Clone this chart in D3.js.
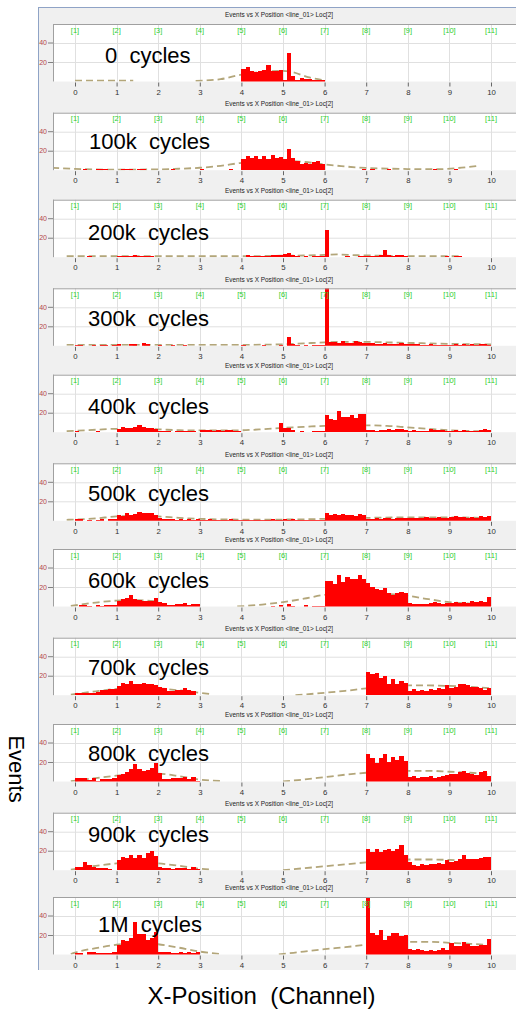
<!DOCTYPE html>
<html>
<head>
<meta charset="utf-8">
<script src="https://cdn.jsdelivr.net/npm/d3@7.9.0/dist/d3.min.js"></script>
<style>
  body { margin: 0; background: #fff; }
  svg { display: block; font-family: "Liberation Sans", Arial, sans-serif; }
</style>
</head>
<body>
<svg id="chart" width="516" height="1009"></svg>
<script>
// ---- data (bins of 0.1 channel from 0 to 10) ----
const cycleLabels = ["0  cycles", "100k  cycles", "200k  cycles", "300k  cycles", "400k  cycles",
  "500k  cycles", "600k  cycles", "700k  cycles", "800k  cycles", "900k  cycles", "1M  cycles"];
const xTicks = [0, 1, 2, 3, 4, 5, 6, 7, 8, 9, 10];
const yTicks = [20, 40];
const channelLabels = ["[1]", "[2]", "[3]", "[4]", "[5]", "[6]", "[7]", "[8]", "[9]", "[10]", "[11]"];
const chartTitle = "Events vs X Position <line_01> Loc[2]";

const counts0 = [
  0,0,0,0,0,0,0,0,0,0, 0,0,0,0,0,0,0,0,0,0, 0,0,0,0,0,0,0,0,0,0, 0,0,0,0,0,0,0,0,0,0,
  13,15,11,10,11,12,17,11,11,12, 2,29,6,1.5,4,3,2.5,2,1.5,1.5,
  0,0,0,0,0,0,0,0,0,0, 0,0,0,0,0,0,0,0,0,0, 0,0,0,0,0,0,0,0,0,0, 0,0,0,0,0,0,0,0,0,0];
const counts100k = [
  0,0,1,0,0,1,1,1,0,0, 0,1,1,1,0,1,1,0,0,0, 0,0,0,1,0,0,0,0,0,0, 1,0,0,0,0,0,0,1,0,0,
  12,14.5,13,14.5,11,14.5,12,15.5,13,13.5, 12,21.5,13,9,6.5,7.5,6,8,9.5,6,
  0,0,0,0,0,0,0,0,0,1, 0,1,0,0,0,1,0,0,0,0, 0,0,0,0,0,0,1,0,0,0, 0,1,0,0,0,0,0,0,0,0];
const counts200k = [
  0,0,0,1,0,0,0,0,0,0, 1,1,1.5,1.5,2,1.5,1.5,1,1,0, 0,0,0,0,0,0,0,0,0,0, 0,0,0,0,0,0,0,0,0,0,
  0,2,1.5,1.5,1,1.5,1.5,2,2.5,2, 3,4.5,2,1,0,1,0,1,1.5,1,
  28,0,0,0,0,1,0,0,1,1, 1,1.5,1.5,2,7,2,1.5,2,2.5,1, 0.5,0,0,0,0,0,0,0,0,1, 0,1.5,1,0,0,0,0,0,0,0];
const counts300k = [
  1,1,0,0,1,0,1,1,0,1, 1.5,0,0,1.5,1.5,0,2.5,1.5,0,0, 1,0,0,1,0,0,1,0,0,0, 0,0,0,0,0,0,0,0,0,0,
  1,0,0,0,0,1,0,0,0,1, 0,9,1.5,1,0,1,0,1,1,1,
  62,4,3.5,3,4.5,3,3,5,3.5,3, 2.5,2.5,1.5,2,2.5,1.5,2,2,3,2, 1.5,2,1.5,1,1,1.5,1,1,1,0.5, 1,1.5,1,1.5,1,1.5,1,1.5,1.5,1];
const counts400k = [
  1,0,0,0,0,1,0,0,0,0, 3.5,5,4,4.5,5,7.5,5.5,4,4,3, 1,1,1,0.5,1,1,1.5,1,1.5,0.5, 2,2,2,1.5,2,1.5,2,2.5,1.5,1,
  0.5,0,0,0,0,0,0.5,0,0,9, 4,3.8,2,0,1,0.5,0.5,1,1,1,
  17.5,14,13,22,16,16,18,15,19,19, 2,2.5,1.5,2,2.5,3,2.5,3,3.5,2, 1.5,2,1,1,1,3,2.5,2.5,2,1.5, 1,2,1.5,2,1.5,1,1.5,2.5,3,2];
const counts500k = [
  1.5,1.5,0,1,0,1,1.5,0,2,2, 6,5,7.5,5.5,6.5,9,7.5,8,7.5,6, 2.5,2,1.5,1.5,1,1.5,1,1.5,1,1.5, 1,1,1.5,1,1,1,1,1.5,1,1,
  0.5,1,1,0.5,1,0.5,1,1.5,1,1, 2,1,1.5,0.5,1,1,1,1,1,1,
  8.5,6,7,5.5,6.5,5.5,6,5,6.5,5.5, 2,2,2.5,2,2.5,2.5,2,3,2.5,3, 2.5,3,2.5,3,3.5,2.5,3,3.5,2.5,3, 4,4.5,3.5,4,3,3.5,2.5,5,4,4.5];
const counts600k = [
  0,1.5,1.5,1,0,2,1,1.5,1.5,2, 6,8,9,12,8,7,6,6,5.5,9, 4.5,4,2,1.5,3,3,3.5,2,3,2.5, 0,0,0,0,0,0,0,0,0,0,
  0,0,0,0,0,0,0,1,0,1.5, 0,3,1,0,0,1.5,0,1,1,1,
  26,26,23,32,25,30,28,28,32,28, 24,20,18,17,19,14,12,14,15,14, 4,3,2.5,2.5,3,3.5,5,3.5,3,4, 4,4.5,3.5,5,4,5.5,5,6,5,9.5];
const counts700k = [
  2.5,2.5,2.5,2.5,2.5,3.5,5,5.5,6,6, 9,13,11.5,14.5,12,11.5,13,12,12,10, 8.5,7,4,4.5,5.5,5.5,7,5.5,4,0, 0,0,0,0,0,0,0,0,0,0,
  0,0,0,0,0,0,0,0,0,0, 0,0,0,0,0,0,0,0,0,0,
  0,0,0,0,0,0,0,0,0,0, 24,22,23,18,20,12,17,11,15,13, 4.5,6,4,5.5,4,6,5,7,6,10, 7,8.5,11.5,12,10,8,8,7.5,5.5,7];
const counts800k = [
  3.5,4,3.5,2,3.5,1,2.5,2.5,3,3.5, 7,7.5,10,13,18,13,11,12,14,19, 9,2.5,2.5,3.5,4,4,5,3,5,1, 0,0,0,0,0,0,0,0,0,0,
  0,0,0,0,0,0,0,0,0,0, 0,0,0,0,0,0,0,0,0,0,
  0,0,0,0,0,0,0,0,0,0, 28,24,19,24,28,20,25,22,26,21, 5,6,3.5,4.5,5,6,4,5,5.5,6.5, 8,8,9.5,10.5,9,7.5,7,10,11,6];
const counts900k = [
  3.5,3.5,8,5,3,2.5,2.5,2,1,0, 10,14,13,16,13,16,13,18,20,15, 3,2,2.5,1.5,2.5,2,2.5,1.5,3,1, 0,0,0,0,0,0,0,0,0,0,
  0,0,0,0,0,0,0,0,0,0, 0,0,0,0,0,0,0,0,0,0,
  0,0,0,0,0,0,0,0,0,0, 22,19,22,19,21,22,20,22,26,16, 8,5,4.5,6,5,6.5,6,7.5,6.5,10, 8,9,11,16,12,11,12,13,13.5,13.5];
const counts1M = [
  1.5,2,0,3,3,1.5,2,2,2,2.5, 10,15,14,17,33,21,21,15,17,23, 3,2.5,2.5,1.5,2,2.5,2,3,2,2.5, 0,0,0,0,0,0,0,0,0,0,
  0,0,0,0,0,0,0,0,0,0, 0,0,0,0,0,0,0,0,0,0,
  0,0,0,0,0,0,0,0,0,0, 62,22,20,25,15,18.5,22,22,19,20, 6,5,6,4.5,4,4.5,4,4.5,7,5, 12,9,9,13,11,8.5,9,10,10,16];

// dashed fit curves: segments of [channel, events]
const fit0 = [[[0,0.8],[1.4,0.8]], [[2.9,0.6],[3.5,2.4],[4,7],[4.5,10],[5,11],[5.2,10],[5.6,4.5],[6,1]]];
const fit100k = [[[-0.55,2.5],[0,1.4],[0.5,0.8],[1,0.6],[2,0.8],[2.5,1.5],[3,2.5],[3.5,4.5],[4,7.5],[4.5,9],[5,9.5],
  [5.5,8.5],[6,6],[6.4,4.2],[7,2.3],[7.5,1.6],[8,1.2],[8.7,1],[9.2,2.2],[9.65,4.2]]];
const fit200k = [[[-0.2,1],[4,1],[5,1.5],[5.8,2],[6.3,2.8],[6.8,2],[7.5,1.5],[8.5,1],[9.3,1]]];
const fit300k = [[[-0.2,1],[4,1],[5,1.5],[5.5,2.5],[6,3.5],[6.5,4],[7,4],[7.5,3.5],[8,3],[9,2],[10,1.5]]];
const fit400k = [[[-0.2,1],[0.5,2.5],[1,3.5],[1.5,3.5],[2,3],[2.5,2],[3,1.8],[3.5,1.8],[4,2],[4.5,3],[5,4.5],
  [5.5,5.5],[6,6.5],[6.5,7],[7,7],[7.5,6.5],[8,5],[8.5,3.5],[9,2],[9.5,1.2],[10,0.8]]];
const fit500k = [[[-0.2,1],[0.5,2.5],[1,4.5],[1.5,5],[2,4.5],[2.5,3],[3,2],[4,1.3],[5,1.3],[6,2],[7,3],[8,3.5],[9,3.5],[10,2.8]]];
const fit600k = [[[-0.1,0.5],[0.5,4],[1,6],[1.5,6.5],[2,5]],
  [[3.9,0],[4.5,2],[5,4.5],[5.5,8],[6,12],[6.5,14],[7,14],[7.5,13],[8,11],[8.5,7.5],[9,4.5],[9.5,3],[10,2]]];
const fit700k = [[[-0.1,0.5],[0.5,4],[1,6.5],[1.5,8],[2,7],[2.5,5],[3,2.5],[3.3,1]],
  [[5.3,0],[6,2.5],[6.5,4.5],[7,7],[7.5,9],[8,10],[8.5,10],[9,9.5],[9.5,8.5],[10,7]]];
const fit800k = [[[-0.1,0.3],[0.5,3.5],[1,6],[1.5,8],[2,8],[2.5,5.5],[3,2],[3.5,0.5]],
  [[5,0],[5.5,2],[6,4.5],[6.5,7],[7,9],[7.5,10.5],[8,11],[8.5,11],[9,10],[9.5,9],[10,7]]];
const fit900k = [[[-0.1,0.5],[0.5,4.5],[1,7],[1.5,8.5],[2,7],[2.5,4.5],[3,1.5],[3.3,0.5]],
  [[5,0],[5.5,2],[6,4],[6.5,6],[7,8],[7.5,10],[8,11],[8.5,11],[9,10.5],[9.5,9.5],[10,8.5]]];
const fit1M = [[[-0.1,0.5],[0,2],[0.5,6.5],[1,10],[1.5,12],[2,10.5],[2.5,7],[3,3],[3.5,0.5]],
  [[4.9,0],[5.5,3],[6,5.5],[6.5,7.5],[7,10],[7.5,12],[8,13],[8.5,13],[9,12],[9.5,11],[10,9.5]]];

const allCounts = [counts0, counts100k, counts200k, counts300k, counts400k, counts500k,
  counts600k, counts700k, counts800k, counts900k, counts1M];
const allFits = [fit0, fit100k, fit200k, fit300k, fit400k, fit500k, fit600k, fit700k, fit800k, fit900k, fit1M];

// ---- layout (screenshots were stacked, so the spacing is uneven) ----
const panelTops = [24, 112.7, 199.7, 288.3, 374.7, 463.3, 549, 637.7, 724, 812.7, 897];
const labelPos = [[105,38.7],[89,36.6],[88,40.3],[88,37.4],[88,39.3],[88,37.4],[88,39.3],[88,37.3],[88,36.7],[88,29],[98,35.3]];
const plotLeft = 53, plotRight = 516, plotH = 57.5;
const binW = 0.1;

const svg = d3.select("#chart");

// grey window behind all panels
svg.append("rect").attr("x", 38).attr("y", 7).attr("width", 478).attr("height", 963).attr("fill", "#f0f0f0");
svg.append("line").attr("x1", 38.5).attr("x2", 38.5).attr("y1", 7).attr("y2", 970).attr("stroke", "#8fa3c6");
svg.append("line").attr("x1", 38).attr("x2", 516).attr("y1", 7.5).attr("y2", 7.5).attr("stroke", "#8fa3c6");

svg.append("defs").append("clipPath").attr("id", "plotclip")
  .append("rect").attr("x", plotLeft).attr("y", 0).attr("width", plotRight - plotLeft).attr("height", plotH);

const x = d3.scaleLinear().domain([0, 10]).range([75, 491]);
const y = d3.scaleLinear().domain([0, 59]).range([plotH, 0]);
const line = d3.line().x(d => x(d[0])).y(d => y(d[1])).curve(d3.curveMonotoneX);

allCounts.forEach((counts, k) => {
  const g = svg.append("g").attr("transform", `translate(0,${panelTops[k]})`);

  g.append("text")
    .attr("x", 279).attr("y", -6.8)
    .attr("text-anchor", "middle")
    .attr("font-size", 7.4)
    .attr("textLength", 108).attr("lengthAdjust", "spacingAndGlyphs")
    .attr("fill", "#222")
    .text(chartTitle);

  g.append("rect").attr("x", plotLeft).attr("y", 0)
    .attr("width", plotRight - plotLeft).attr("height", plotH).attr("fill", "#fff");

  g.selectAll(".vgrid").data(xTicks).enter().append("line")
    .attr("x1", d => Math.round(x(d)) + 0.5).attr("x2", d => Math.round(x(d)) + 0.5)
    .attr("y1", 0).attr("y2", plotH)
    .attr("stroke", "#e0e0e0");
  g.selectAll(".hgrid").data(yTicks).enter().append("line")
    .attr("x1", plotLeft).attr("x2", plotRight)
    .attr("y1", d => Math.round(y(d)) + 0.5).attr("y2", d => Math.round(y(d)) + 0.5)
    .attr("stroke", "#e0e0e0");

  const inner = g.append("g").attr("clip-path", "url(#plotclip)");

  inner.selectAll(".fit").data(allFits[k]).enter().append("path")
    .attr("d", line)
    .attr("fill", "none")
    .attr("stroke", "#b3a67a")
    .attr("stroke-width", 1.8)
    .attr("stroke-dasharray", "7,4");

  const bins = counts.map((c, i) => ({ x0: i * binW, c })).filter(d => d.c > 0);
  inner.selectAll(".bar").data(bins).enter().append("rect")
    .attr("x", d => x(d.x0))
    .attr("width", x(binW) - x(0))
    .attr("y", d => y(d.c))
    .attr("height", d => plotH - y(d.c))
    .attr("fill", "#ff0000")
    .attr("shape-rendering", "crispEdges");

  // sunken border
  g.append("line").attr("x1", plotLeft).attr("x2", plotRight).attr("y1", 0.5).attr("y2", 0.5).attr("stroke", "#a0a0a0");
  g.append("line").attr("x1", plotLeft + 0.5).attr("x2", plotLeft + 0.5).attr("y1", 0).attr("y2", plotH).attr("stroke", "#a0a0a0");

  g.selectAll(".chan").data(channelLabels).enter().append("text")
    .attr("x", (d, i) => x(xTicks[i]))
    .attr("y", 8.8)
    .attr("text-anchor", "middle")
    .attr("font-size", 7.5)
    .attr("fill", "#2ecf2e")
    .text(d => d);

  const yAxis = g.append("g").attr("transform", `translate(${plotLeft},0)`)
    .call(d3.axisLeft(y).tickValues(yTicks).tickSize(5).tickPadding(1));
  yAxis.select(".domain").remove();
  yAxis.selectAll("line").attr("stroke", "#808080");
  yAxis.selectAll("text").attr("fill", "#b54848").attr("font-size", 7)
    .attr("font-family", "'Liberation Sans', Arial, sans-serif");

  const xAxis = g.append("g").attr("transform", `translate(0,${plotH + 1})`)
    .call(d3.axisBottom(x).tickValues(xTicks).tickSize(4).tickPadding(2.5));
  xAxis.select(".domain").remove();
  xAxis.selectAll("line").attr("stroke", "#666");
  xAxis.selectAll("text").attr("fill", "#333").attr("font-size", 7.8)
    .attr("font-family", "'Liberation Sans', Arial, sans-serif");

  g.append("text")
    .attr("x", labelPos[k][0]).attr("y", labelPos[k][1])
    .attr("font-size", 22)
    .attr("fill", "#000")
    .style("white-space", "pre")
    .text(cycleLabels[k]);
});

svg.append("text")
  .attr("transform", "translate(8.5,769) rotate(90)")
  .attr("text-anchor", "middle")
  .attr("font-size", 22)
  .attr("fill", "#000")
  .text("Events");

svg.append("text")
  .attr("x", 261.5).attr("y", 1004)
  .attr("text-anchor", "middle")
  .attr("font-size", 24)
  .attr("fill", "#000")
  .style("white-space", "pre")
  .text("X-Position  (Channel)");
</script>
</body>
</html>
